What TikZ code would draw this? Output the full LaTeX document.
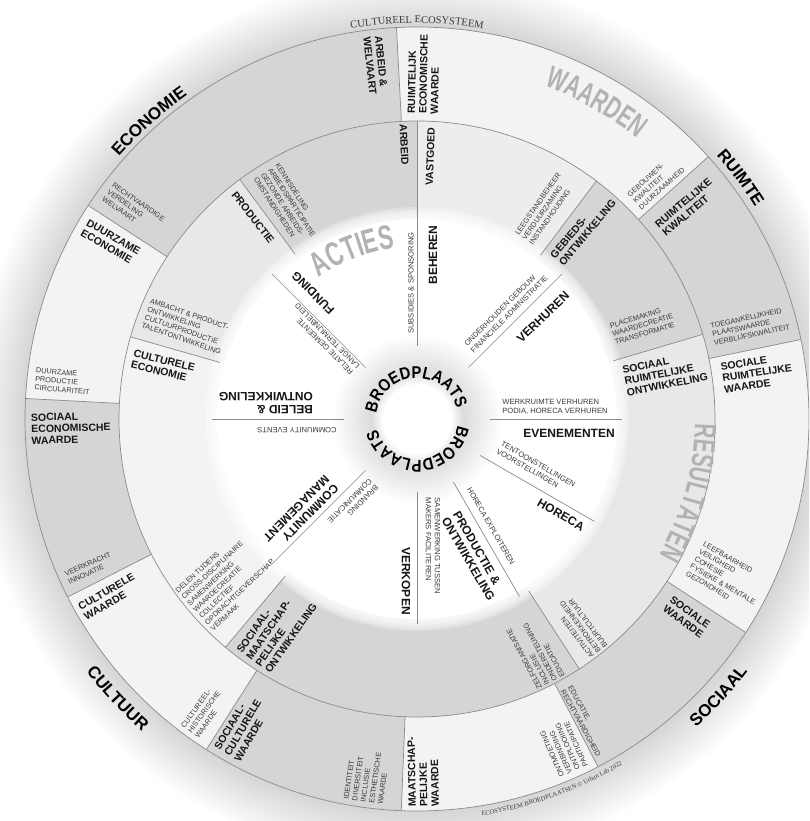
\documentclass[tikz,border=0pt]{standalone}
\usepackage{fontspec}
\setmainfont{Liberation Sans}
\newfontfamily\condf{Liberation Sans}[FakeStretch=0.66]
\newfontfamily\condb{Liberation Sans}[FakeStretch=0.87]
\newfontfamily\seriff{Liberation Serif}
\usetikzlibrary{decorations.text}
\definecolor{secG}{HTML}{D5D5D5}
\definecolor{secL}{HTML}{F3F3F3}
\definecolor{midL}{HTML}{E8E8E8}
\definecolor{midV}{HTML}{EDEDED}
\definecolor{lineC}{HTML}{8A8A8A}
\definecolor{bigG}{HTML}{B2B2B2}
\definecolor{txtC}{HTML}{161616}
\definecolor{smC}{HTML}{3A3A3A}
\pgfdeclareradialshading{glowsh}{\pgfpointorigin}{color(0bp)=(black!16); color(22.1bp)=(black!16); color(25bp)=(white); color(50bp)=(white)}
\pgfdeclareradialshading{hubsh}{\pgfpointorigin}{color(0bp)=(white); color(10bp)=(white); color(13.5bp)=(black!14); color(25bp)=(white); color(50bp)=(white)}
\newcommand\ringsec[5]{\fill[#1] (#2:#4pt) arc[start angle=#2, end angle=#3, radius=#4pt] -- (#3:#5pt) arc[start angle=#3, end angle=#2, radius=#5pt] -- cycle;}
\begin{document}
\begin{tikzpicture}[x=1pt,y=1pt,
  divline/.style={draw=lineC, line width=0.7pt},
  lab/.style={font=\fontsize{10.5}{11.5}\selectfont\bfseries, align=left, inner sep=0pt, text=txtC},
  sm/.style={font=\fontsize{7.3}{8.6}\selectfont, align=left, inner sep=0pt, text=smC},
  act/.style={font=\fontsize{12}{13}\selectfont\bfseries, align=left, inner sep=0pt, text=txtC},
  asm/.style={font=\fontsize{7.6}{9}\selectfont, align=left, inner sep=0pt, text=smC}]
\useasboundingbox (-417,-402) rectangle (392,419);
\clip (-417,-402) rectangle (392,419);
\fill[white] (-417,-402) rectangle (392,419);
% glow
\shade[shading=glowsh] (0,0) circle[radius=445pt];
% outer ring
\fill[secL] (0,0) circle[radius=392pt];
\ringsec{secG}{93}{147}{298}{392}
\ringsec{secG}{177}{207}{298}{392}
\ringsec{secG}{237.5}{267.7}{298}{392}
\ringsec{secG}{297.5}{327}{298}{392}
\ringsec{secG}{11.7}{42}{298}{392}
% middle ring
\fill[secL] (0,0) circle[radius=298pt];
\ringsec{secG}{90}{126.5}{195}{298}
\ringsec{midL}{126.5}{164}{195}{298}
\ringsec{secG}{230}{303}{195}{298}
\ringsec{midL}{303}{376.5}{195}{298}
\ringsec{secG}{16.5}{53}{195}{298}
\ringsec{midV}{53}{90}{195}{298}
% inner disc
\fill[white] (0,0) circle[radius=200pt];
\foreach \r in {202,204,...,212} {\fill[white, opacity=0.25] (0,0) circle[radius=\r pt];}
\shade[shading=hubsh] (0,0) circle[radius=85pt];
% circles and dividers
\draw[divline] (0,0) circle[radius=392pt];
\draw[divline] (0,0) circle[radius=298pt];
\foreach \a in {42,93,147,177,207,237.5,267.7,297.5,327,11.7} {\draw[divline] (\a:298pt) -- (\a:392pt);}
\foreach \a in {53,126.5,164,230,303,16.5} {\draw[divline] (\a:205pt) -- (\a:298pt);}
\foreach \a in {0,45,135,180,225,270,300,330} {\draw[divline] (\a:73pt) -- (\a:205pt);}
\draw[divline] (90:73pt) -- (90:298pt);
% big arc texts
\path[decorate, decoration={text along path, text color=bigG, text={|\condf\bfseries\fontsize{31}{31}\selectfont|WAARDEN}, text align=center}] (80:357pt) arc[start angle=80, end angle=41, radius=357pt];
\path[decorate, decoration={text along path, text color=bigG, text={|\condf\bfseries\fontsize{31}{31}\selectfont|RESULTATEN}, text align=center}] (5:278pt) arc[start angle=5, end angle=-35.4, radius=278pt];
\path[decorate, decoration={text along path, text color=bigG, text={|\condf\bfseries\fontsize{34}{34}\selectfont|ACTIES}, text align=center}] (131:172pt) arc[start angle=131, end angle=91, radius=172pt];
\path[decorate, decoration={text along path, text={|\bfseries\fontsize{17}{17}\selectfont|ECONOMIE}, text align=center}] (148:397pt) arc[start angle=148, end angle=116, radius=397pt];
\path[decorate, decoration={text along path, text={|\bfseries\fontsize{17}{17}\selectfont|RUIMTE}, text align=center}] (52:399pt) arc[start angle=52, end angle=21.4, radius=399pt];
\path[decorate, decoration={text along path, text={|\bfseries\fontsize{17}{17}\selectfont|SOCIAAL}, text align=center}] (-60:416pt) arc[start angle=-60, end angle=-25.2, radius=416pt];
\path[decorate, decoration={text along path, text={|\bfseries\fontsize{17}{17}\selectfont|CULTUUR}, text align=center}] (205:416pt) arc[start angle=205, end angle=241, radius=416pt];
\path[decorate, decoration={text along path, text color=smC, text={|\seriff\fontsize{10.5}{10.5}\selectfont|CULTUREEL ECOSYSTEEM}, text align=center}] (112:396pt) arc[start angle=112, end angle=68, radius=396pt];
\path[decorate, decoration={text along path, text color=smC, text={|\seriff\fontsize{6.5}{6.5}\selectfont|ECOSYSTEEM BROEDPLAATSEN {\textcopyright} Urban Lab 2022}, text align=center}] (-90:402pt) arc[start angle=-90, end angle=-50, radius=402pt];
\path[decorate, decoration={text along path, text={|\condb\bfseries\fontsize{17}{17}\selectfont|BROEDPLAATS}, text align=left}] (172:41pt) arc[start angle=172, end angle=-5, radius=41pt];
\path[decorate, decoration={text along path, text={|\condb\bfseries\fontsize{17}{17}\selectfont|BROEDPLAATS}, text align=left}] (-9:41pt) arc[start angle=-9, end angle=-186, radius=41pt];
% outer ring labels
\node[lab, anchor=west, rotate=-84] (o1) at (96.6:385pt) {ARBEID \&\\WELVAART};
\node[lab, anchor=west, rotate=89] (o2) at (88.9:305pt) {RUIMTELIJK\\ECONOMISCHE\\WAARDE};
\node[lab, anchor=west, rotate=-30] (o3) at (150:384pt) {DUURZAME\\ECONOMIE};
\node[lab, anchor=west, rotate=1.5] (o4) at (181.5:386pt) {SOCIAAL\\ECONOMISCHE\\WAARDE};
\node[lab, anchor=west, rotate=30] (o5) at (210:387pt) {CULTURELE\\WAARDE};
\node[lab, anchor=west, rotate=60] (o6) at (240.5:386pt) {SOCIAAL-\\CULTURELE\\WAARDE};
\node[lab, anchor=west, rotate=91] (o7) at (-89:388pt) {MAATSCHAP-\\PELIJKE\\WAARDE};
\node[lab, anchor=west, rotate=-36] (o8) at (-36.3:311pt) {SOCIALE\\WAARDE};
\node[lab, anchor=west, rotate=9] (o9) at (7.6:308pt) {SOCIALE\\RUIMTELIJKE\\WAARDE};
\node[lab, anchor=west, rotate=40] (o10) at (37.9:308pt) {RUIMTELIJKE\\KWALITEIT};
% outer ring small texts
\node[sm, anchor=west, rotate=-35] (s1) at (143.6:384pt) {RECHTVAARDIGE\\VERDELING\\WELVAART};
\node[sm, anchor=west, rotate=-5] (s2) at (174:384pt) {DUURZAME\\PRODUCTIE\\CIRCULARITEIT};
\node[sm, anchor=west, rotate=24.5] (s3) at (204.5:385pt) {VEERKRACHT\\INNOVATIE};
\node[sm, anchor=west, rotate=54] (s4) at (234:387pt) {CULTUREEL-\\HISTORISCHE\\WAARDE};
\node[sm, anchor=west, rotate=82] (s5) at (262:387pt) {IDENTITEIT\\DIVERSITEIT\\INCLUSIE\\ESTHETISCHE\\WAARDE};
\node[sm, anchor=west, rotate=-61] (s6) at (-61:308pt) {EDUCATIE,\\RECHTVAARDIGHEID};
\node[sm, anchor=west, rotate=114] (s7) at (-66:386pt) {ONTMOETING\\VERBINDING\\ONTPLOOIING\\PARTICIPATIE};
\node[sm, anchor=west, rotate=-30] (s8) at (-26.6:311pt) {LEEFBAARHEID\\VEILIGHEID\\COHESIE\\FYSIEKE \& MENTALE\\GEZONDHEID};
\node[sm, anchor=west, rotate=12] (s9) at (16:307pt) {TOEGANKELIJKHEID\\PLAATSWAARDE\\VERBLIJFSKWALITEIT};
\node[sm, anchor=west, rotate=42] (s10) at (45:307pt) {GEBOUWEN-\\KWALITEIT\\DUURZAAMHEID};
% middle ring labels
\node[lab, anchor=west, rotate=-87] (m1) at (92.7:295pt) {ARBEID};
\node[lab, anchor=east, rotate=88] (m2) at (87.2:292pt) {VASTGOED};
\node[lab, anchor=west, rotate=50] (m3) at (48.6:211pt) {GEBIEDS-\\ONTWIKKELING};
\node[lab, anchor=west, rotate=11] (m4) at (10.3:211pt) {SOCIAAL\\RUIMTELIJKE\\ONTWIKKELING};
\node[lab, anchor=west, rotate=55] (m5) at (236:293pt) {SOCIAAL-\\MAATSCHAP-\\PELIJKE\\ONTWIKKELING};
\node[lab, anchor=west, rotate=-14] (m6) at (168:291pt) {CULTURELE\\ECONOMIE};
\node[lab, anchor=west, rotate=-52] (m7) at (129:291pt) {PRODUCTIE};
% middle ring small texts
\node[sm, anchor=west, rotate=-57] (t1) at (121.3:290pt) {KENNISDELING\\ARBEIDSPARTICIPATIE\\GEZONDE ARBEIDS-\\OMSTANDIGHEDEN};
\node[sm, anchor=west, rotate=-19] (t2) at (158.6:291pt) {AMBACHT \& PRODUCT-\\ONTWIKKELING\\CULTUURPRODUCTIE\\TALENTONTWIKKELING};
\node[sm, anchor=west, rotate=43] (t3) at (220.7:294pt) {DELEN TIJDENS\\CROSS-DISCIPLINAIRE\\SAMENWERKING\\WAARDECREATIE\\COLLECTIEF\\OPDRACHTGEVERSCHAP\\VERMAAK};
\node[sm, anchor=west, rotate=118] (t4) at (-63:296pt) {ZELFORGANISATIE\\INCLUSIE\\ONDERSTEUNING\\EDUCATIE};
\node[sm, anchor=west, rotate=127] (t5) at (-52:296pt) {ACTIVITEITEN\\BETROKKENHEID\\BUURTCULTUUR};
\node[sm, anchor=west, rotate=17] (t6) at (23.4:213pt) {PLACEMAKING\\WAARDECREATIE\\TRANSFORMATIE};
\node[sm, anchor=west, rotate=55] (t7) at (59.3:209pt) {LEEGSTANDBEHEER\\VERDUURZAMING\\INSTANDHOUDING};
% action labels
\node[act, rotate=90] (a1) at (16,164) {BEHEREN};
\node[act, rotate=44] (a2) at (126,102) {VERHUREN};
\node[act, rotate=0] (a3) at (152,-14) {EVENEMENTEN};
\node[act, rotate=-30] (a4) at (144,-96) {HORECA};
\node[act, rotate=-60] (a5) at (57,-137) {PRODUCTIE \&\\ONTWIKKELING};
\node[act, rotate=-90] (a6) at (-11,-162) {VERKOPEN};
\node[act, rotate=225] (a7) at (-116,-94) {COMMUNITY\\MANAGEMENT};
\node[act, rotate=180] (a8) at (-151,16) {BELEID \&\\ONTWIKKELING};
\node[act, rotate=135] (a9) at (-104,126) {FUNDING};
% action small texts
\node[asm, rotate=90] (b1) at (-6,136) {SUBSIDIES \& SPONSORING};
\node[asm, rotate=45] (b2) at (89,108) {ONDERHOUDEN GEBOUW\\FINANCIELE ADMINISTRATIE};
\node[asm, rotate=0] (b3) at (138,12) {WERKRUIMTE VERHUREN\\PODIA, HORECA VERHUREN};
\node[asm, rotate=-30] (b4) at (119,-49) {TENTOONSTELLINGEN\\VOORSTELLINGEN};
\node[asm, rotate=-60] (b5) at (74,-107) {HORECA EXPLOITEREN};
\node[asm, rotate=-90] (b6) at (16,-127) {SAMENWERKING TUSSEN\\MAKERS FACILITEREN};
\node[asm, rotate=225] (b7) at (-64,-85) {BRANDING\\COMMUNICATIE};
\node[asm, rotate=180] (b8) at (-120,-11) {COMMUNITY EVENTS};
\node[asm, rotate=135] (b9) at (-93,80) {RELATIE GEMEENTE\\LANGE TERMIJNBELEID};
\end{tikzpicture}
\end{document}
